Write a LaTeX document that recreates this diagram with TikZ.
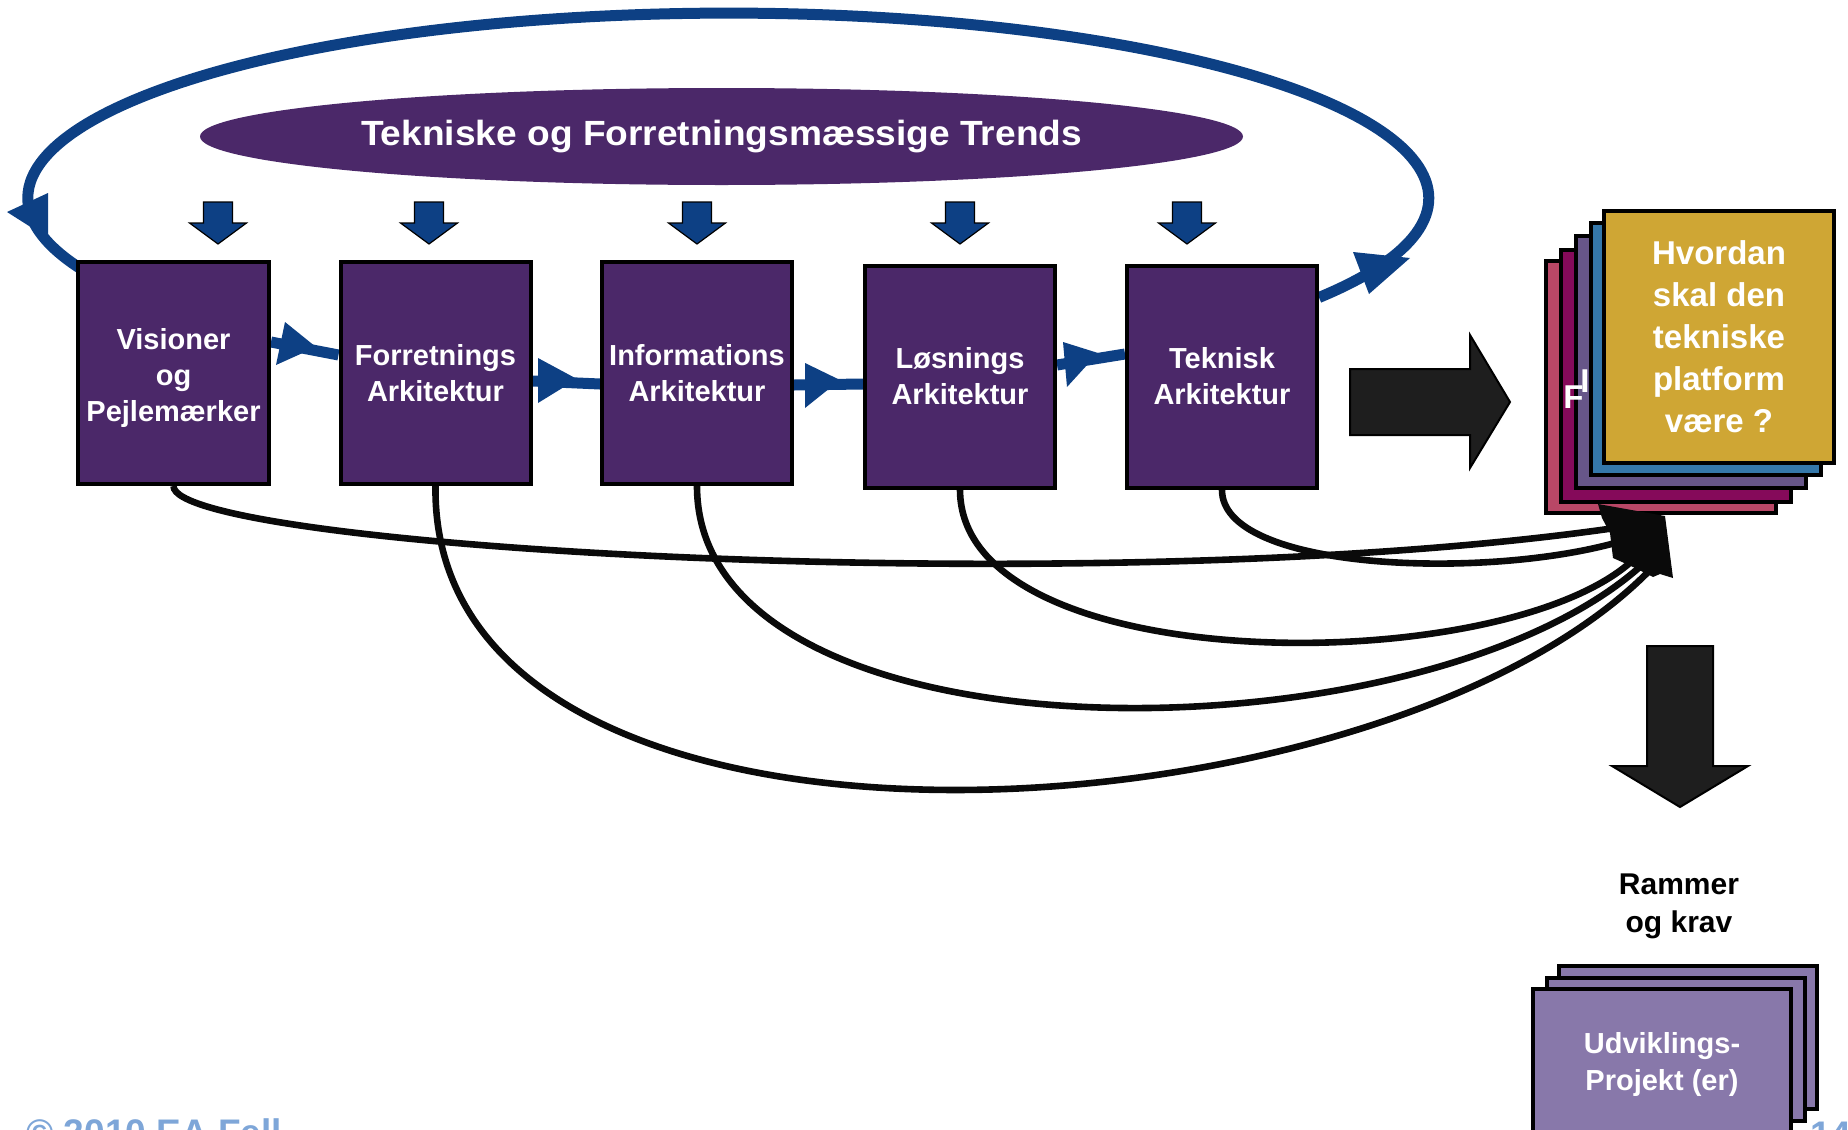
\documentclass[tikz,border=0pt]{standalone}
\usepackage{fontspec}
\setmainfont{Liberation Sans}
\usepackage{graphicx}
\usetikzlibrary{shapes.geometric,backgrounds}
\definecolor{boxpurple}{HTML}{4B2869}
\definecolor{loopblue}{HTML}{0D4084}
\definecolor{cardpink}{HTML}{B94766}
\definecolor{cardmag}{HTML}{850A5A}
\definecolor{cardlav}{HTML}{675689}
\definecolor{cardblue}{HTML}{3578AA}
\definecolor{cardgold}{HTML}{CFA634}
\definecolor{projpurple}{HTML}{8878AA}
\definecolor{footblue}{HTML}{7EA6D8}
\definecolor{arrowblack}{HTML}{1E1E1E}
\definecolor{curveblack}{HTML}{0A0A0A}
\begin{document}
\begin{tikzpicture}[x=0.5pt,y=-0.5pt,
  archbox/.style={draw=black, line width=2pt, fill=boxpurple, minimum width=95pt,
    minimum height=111pt, inner sep=0pt, text=white, align=center,
    font=\fontsize{14.5}{18}\selectfont\bfseries},
  archtext/.style={text=white, align=center, inner sep=0pt, font=\fontsize{14.5}{18}\selectfont\bfseries},
  stackcard/.style={draw=black, line width=2pt, minimum width=115pt, minimum height=126pt, inner sep=0pt},
  projcard/.style={draw=black, line width=2pt, fill=projpurple, minimum width=129pt, minimum height=71.5pt, inner sep=0pt},
  bluelink/.style={draw=loopblue, line width=5.5pt},
  bluehead/.style={fill=loopblue},
  trendarrow/.style={fill=loopblue, draw=black, line width=0.6pt},
  feedcurve/.style={draw=curveblack, line width=3.3pt},
  bigarrow/.style={fill=arrowblack, draw=black, line width=1pt},
  cardtext/.style={text=white, align=center, font=\fontsize{16.5}{21}\selectfont\bfseries},
]
\clip (0,0) rectangle (1848,1130);

% trends ellipse
\node[ellipse, fill=boxpurple, minimum width=521.5pt, minimum height=48.5pt, inner sep=0pt,
  text=white, font=\fontsize{17.5}{20}\selectfont\bfseries] (trends) at (721.5,136.5)
  {\scalebox{1.06}[1]{\raisebox{-2.5pt}{Tekniske og Forretningsmæssige Trends}}};

% trend down arrows
\foreach \c/\n in {218/a1,429/a2,697/a3,960/a4,1187/a5}{
  \draw[trendarrow] (\c-14.5,202) -- (\c+14.5,202) -- (\c+14.5,223) -- (\c+28.5,223)
    -- (\c,244) -- (\c-28.5,223) -- (\c-14.5,223) -- cycle;
}

% architecture boxes
\node[archbox, minimum width=95.5pt] (b1) at (173.5,373) {};
\node[archtext] (b1t) at ([yshift=-2.5pt]b1.center) {Visioner\\og\\Pejlemærker};
\node[archbox] (b2) at (435.5,373) {Forretnings\\Arkitektur};
\node[archbox] (b3) at (697,373) {Informations\\Arkitektur};
\node[archbox] (b4) at (960,376.5) {Løsnings\\Arkitektur};
\node[archbox] (b5) at (1222,376.5) {Teknisk\\Arkitektur};

\begin{scope}[on background layer]
  % big feedback loop
  \coordinate (loopS) at ([yshift=39.5pt]b5.east);
  \draw[bluelink] (loopS) arc[start angle=-32.5, end angle=202.2, x radius=350.25pt, y radius=92.5pt];
  % links between boxes
  \draw[bluelink] ([yshift=15.5pt]b1.east) -- ([yshift=9pt]b2.west);
  \draw[bluelink] ([yshift=-4pt]b2.east) -- ([yshift=-5.5pt]b3.west);
  \draw[bluelink] ([yshift=-6pt]b3.east) -- ([yshift=-3.75pt]b4.west);
  \draw[bluelink] ([yshift=5.75pt]b4.east) -- ([yshift=11.25pt]b5.west);
  % feedback curves
  \coordinate (e1) at (1615,528);
  \coordinate (e2) at (1652,568);
  \coordinate (e3) at (1642,565);
  \coordinate (e4) at (1632,561);
  \coordinate (e5) at (1615,543);
  \draw[feedcurve] (b1.south) .. controls (173,548) and (1100,602) .. (e1);
  \draw[feedcurve] (b2.south) .. controls (430,905) and (1380,850) .. (e2);
  \draw[feedcurve] (b3.south) .. controls (697,770) and (1420,765) .. (e3);
  \draw[feedcurve] (b4.south) .. controls (960,680) and (1500,680) .. (e4);
  \draw[feedcurve] (b5.south) .. controls (1221,570) and (1480,580) .. (e5);
\end{scope}

% arrowheads on blue links
\fill[bluehead] (285,322) -- (276,365) -- (316,347) -- cycle;
\fill[bluehead] (538,358) -- (538,403) -- (577,379) -- cycle;
\fill[bluehead] (805,363) -- (805,408) -- (840,380) -- cycle;
\fill[bluehead] (1063,342) -- (1067,387) -- (1098,353) -- cycle;
% arrowheads on the loop
\fill[bluehead] (7,212) -- (48,193) -- (48,238) -- cycle;
\fill[bluehead] (1353,252) -- (1369,294) -- (1410,258) -- cycle;

% big right arrow
\draw[bigarrow] (1350,369) -- (1470,369) -- (1470,335) -- (1510,402) -- (1470,468)
  -- (1470,435) -- (1350,435) -- cycle;

% card stack
\node[stackcard, fill=cardpink] (k1) at (1661,386.5) {};
\node[stackcard, fill=cardmag] (k2) at (1676,375.5) {};
\node[stackcard, fill=cardlav] (k3) at (1690.5,362) {};
\node[cardtext, anchor=base west, inner sep=0pt] (k2t) at (1563,408) {F};
\node[cardtext, anchor=base west, inner sep=0pt] (k3t) at (1580,392) {I};
\node[stackcard, fill=cardblue] (k4) at (1706,349) {};
\node[stackcard, fill=cardgold, cardtext] (k5) at (1719,337) {Hvordan\\skal den\\tekniske\\platform\\være ?};

% merged arrowhead of the feedback curves
\fill[curveblack] (1598,504) -- (1665,516) -- (1673,578) -- (1660,574) -- (1653,577)
  -- (1643,572) -- (1633,567) -- (1622,562) -- (1613,558) -- (1610,533) -- (1602,518) -- cycle;

% down arrow
\draw[bigarrow] (1647,646) -- (1713,646) -- (1713,766) -- (1748,766) -- (1680,807)
  -- (1612,766) -- (1647,766) -- cycle;

\node[align=center, font=\fontsize{15}{19}\selectfont\bfseries] (rk) at (1679,906) {Rammer\\og krav};

% project cards
\node[projcard] (p3) at (1688,1037.5) {};
\node[projcard] (p2) at (1675.5,1049.5) {};
\node[projcard] (p1) at (1662,1060.5) {};
\node[archtext, font=\fontsize{14.5}{18.5}\selectfont\bfseries] (p1t) at ([yshift=-2pt]p1.center) {Udviklings-\\Projekt (er)};

% footer
\node[anchor=base west, inner sep=0pt, text=footblue, font=\fontsize{18.5}{18.5}\selectfont\bfseries] (foot) at (26,1145) {© 2010 EA Fell};
\node[anchor=base west, inner sep=0pt, text=footblue, font=\fontsize{18.5}{18.5}\selectfont\bfseries] (pg) at (1810,1147) {14};
\end{tikzpicture}
\end{document}
